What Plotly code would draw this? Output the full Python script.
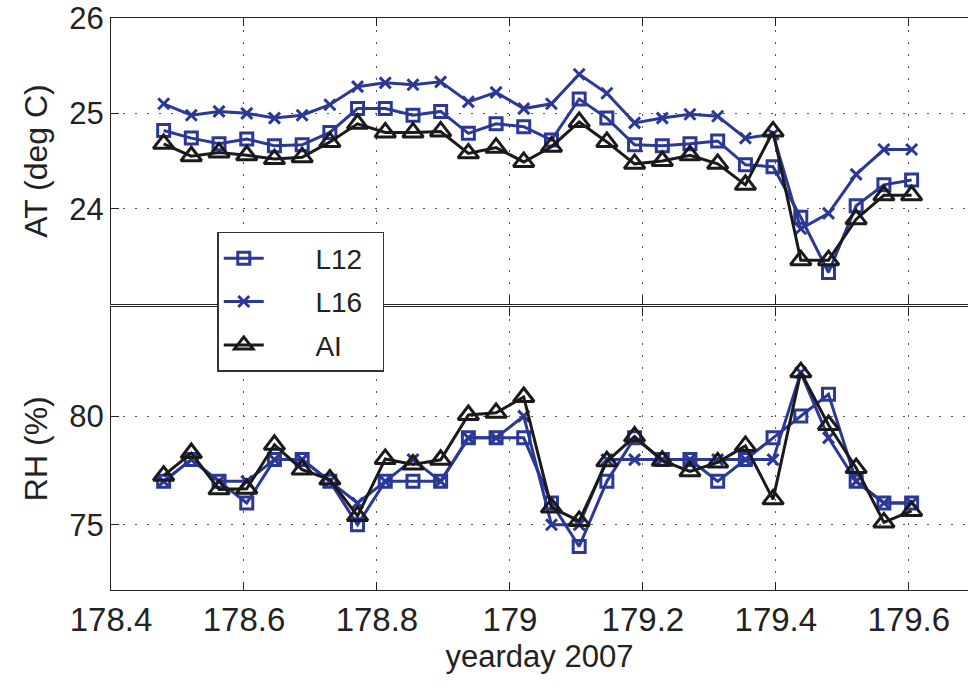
import plotly.graph_objects as go

yearday = [178.4792, 178.5208, 178.5625, 178.6042, 178.6458, 178.6875, 178.7292,
           178.7708, 178.8125, 178.8542, 178.8958, 178.9375, 178.9792, 179.0208,
           179.0625, 179.1042, 179.1458, 179.1875, 179.2292, 179.2708, 179.3125,
           179.3542, 179.3958, 179.4375, 179.4792, 179.5208, 179.5625, 179.6042]

at_l12 = [24.82, 24.74, 24.68, 24.73, 24.66, 24.67, 24.80, 25.05, 25.05, 24.98,
          25.02, 24.79, 24.89, 24.86, 24.72, 25.15, 24.95, 24.67, 24.66, 24.68,
          24.71, 24.46, 24.44, 23.91, 23.33, 24.03, 24.25, 24.30]
at_l16 = [25.10, 24.98, 25.02, 25.00, 24.95, 24.98, 25.09, 25.28, 25.32, 25.30,
          25.33, 25.12, 25.22, 25.05, 25.10, 25.41, 25.21, 24.90, 24.95, 24.99,
          24.97, 24.74, 24.78, 23.79, 23.95, 24.36, 24.62, 24.62]
at_ai = [24.68, 24.55, 24.59, 24.56, 24.52, 24.54, 24.70, 24.89, 24.80, 24.80,
         24.81, 24.58, 24.64, 24.49, 24.65, 24.91, 24.70, 24.47, 24.50, 24.56,
         24.47, 24.25, 24.81, 23.46, 23.46, 23.89, 24.14, 24.14]

rh_l12 = [77, 78, 77, 76, 78, 78, 77, 75, 77, 77, 77, 79, 79, 79, 76, 74, 77, 79,
          78, 78, 77, 78, 79, 80, 81, 77, 76, 76]
rh_l16 = [77, 78, 77, 77, 78, 78, 77, 76, 77, 78, 77, 79, 79, 80, 75, 75, 78, 78,
          78, 78, 78, 78, 78, 82, 79, 77, 76, 76]
rh_ai = [77.26, 78.30, 76.63, 76.66, 78.68, 77.54, 77.08, 75.41, 78.03, 77.77,
         77.99, 80.05, 80.15, 80.88, 75.79, 75.18, 77.92, 79.06, 77.95, 77.46,
         77.87, 78.63, 76.17, 82.02, 79.59, 77.61, 75.11, 75.64]

x_ticks = [178.4, 178.6, 178.8, 179.0, 179.2, 179.4, 179.6]
x_ticklabels = ["178.4", "178.6", "178.8", "179", "179.2", "179.4", "179.6"]
at_ticks = [24, 25, 26]
rh_ticks = [75, 80]

BLUE = "#2B3896"
BLACK = "#1A1A1A"
FONT = "Liberation Sans, Arial, sans-serif"
NB = "\u00a0"

series = [
    ("L12", at_l12, rh_l12, BLUE, "square-open", 12),
    ("L16", at_l16, rh_l16, BLUE, "x-thin-open", 11),
    ("AI", at_ai, rh_ai, BLACK, "triangle-up-open", 18),
]

fig = go.Figure()
for name, at, rh, col, sym, sz in series:
    mk = dict(symbol=sym, size=sz, color=col, line=dict(color=col, width=3))
    fig.add_trace(go.Scatter(x=yearday, y=at, mode="lines+markers",
                             name=NB * 6 + name + NB * 2,
                             legendgroup=name, line=dict(color=col, width=3),
                             marker=mk, xaxis="x2", yaxis="y2"))
    fig.add_trace(go.Scatter(x=yearday, y=rh, mode="lines+markers", name=name,
                             legendgroup=name, showlegend=False,
                             line=dict(color=col, width=3), marker=mk,
                             xaxis="x", yaxis="y"))

grid = dict(showgrid=True, gridcolor="#555555", gridwidth=1, griddash="2px,10px")
axline = dict(showline=True, linecolor="#222222", linewidth=1.2,
              ticks="inside", ticklen=8, tickcolor="#222222", zeroline=False)

fig.update_layout(
    width=968, height=687,
    margin=dict(l=111, r=0, t=18, b=97),
    paper_bgcolor="white", plot_bgcolor="white",
    font=dict(family=FONT, color="#222222"),
    xaxis=dict(domain=[0, 1], anchor="y", range=[178.4, 179.689],
               tickvals=x_ticks, ticktext=x_ticklabels, mirror="ticks",
               tickfont=dict(size=33),
               title=dict(text="yearday 2007", font=dict(size=31), standoff=8),
               **grid, **axline),
    yaxis=dict(domain=[0, 0.494], anchor="x", range=[72, 85], tickvals=rh_ticks,
               tickfont=dict(size=31),
               title=dict(text="RH (%)", font=dict(size=32), standoff=12),
               **grid, **axline),
    xaxis2=dict(domain=[0, 1], anchor="y2", range=[178.4, 179.689],
                tickvals=x_ticks, showticklabels=False, mirror="ticks",
                **grid, **axline),
    yaxis2=dict(domain=[0.5, 1], anchor="x2", range=[23, 26], tickvals=at_ticks,
                tickfont=dict(size=31),
                title=dict(text="AT (deg C)", font=dict(size=32), standoff=12),
                **grid, **axline),
    legend=dict(x=0.124, y=0.626, xanchor="left", yanchor="top",
                bgcolor="white", bordercolor="#333333", borderwidth=1.5,
                font=dict(size=28), tracegroupgap=4, itemwidth=40),
    showlegend=True,
)

fig.write_html("out.html")
